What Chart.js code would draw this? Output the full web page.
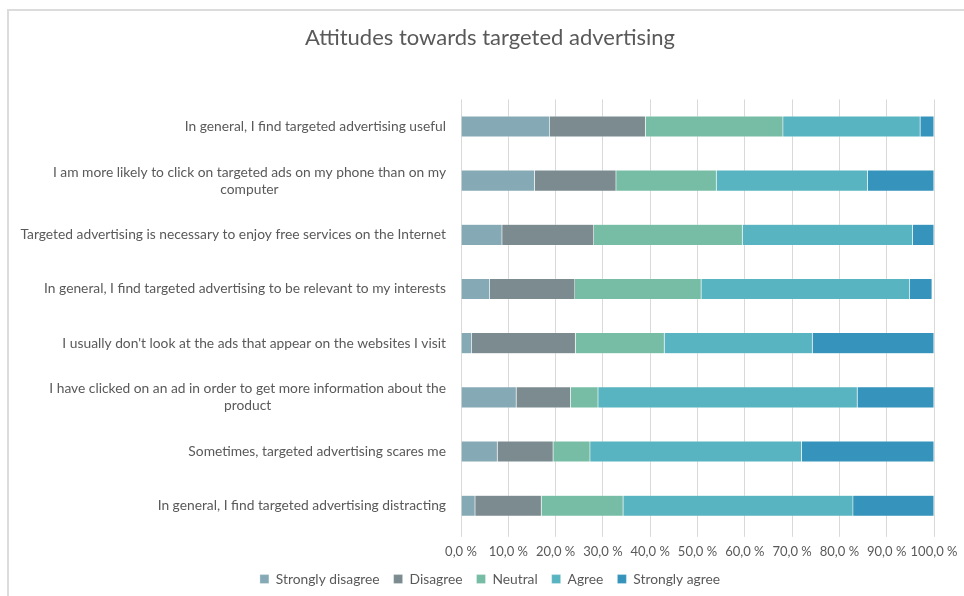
<!DOCTYPE html>
<html>
<head>
<meta charset="utf-8">
<script src="https://cdn.jsdelivr.net/npm/chart.js@4.4.1/dist/chart.umd.min.js"></script>
<style>
  html, body { margin: 0; padding: 0; background: #fff; overflow: hidden; }
  #wrap { position: relative; width: 964px; height: 596px; }
  #frame { position: absolute; left: 7px; top: 9px; width: 980px; height: 620px; border: 2px solid #dcdcdc; box-sizing: border-box; }
  canvas { position: absolute; left: 0; top: 0; }
</style>
</head>
<body>
<div id="wrap">
  <div id="frame"></div>
  <canvas id="attitudeChart" width="964" height="596"></canvas>
</div>
<script>
const statements = [
    ['In general, I find targeted advertising useful'],
    ['I am more likely to click on targeted ads on my phone than on my', 'computer'],
    ['Targeted advertising is necessary to enjoy free services on the Internet'],
    ['In general, I find targeted advertising to be relevant to my interests'],
    ["I usually don't look at the ads that appear on the websites I visit"],
    ['I have clicked on an ad in order to get more information about the', 'product'],
    ['Sometimes, targeted advertising scares me'],
    ['In general, I find targeted advertising distracting']
];

const stronglyDisagree = [18.8, 15.6, 8.7, 6.1, 2.3, 11.7, 7.7, 3.0];
const disagree         = [20.2, 17.2, 19.4, 18.0, 21.9, 11.5, 11.8, 14.0];
const neutral          = [29.1, 21.2, 31.4, 26.7, 18.8, 5.8, 7.8, 17.3];
const agree            = [29.0, 32.0, 36.0, 44.1, 31.3, 54.8, 44.7, 48.6];
const stronglyAgree    = [2.9, 14.0, 4.5, 4.7, 25.7, 16.2, 28.0, 17.1];

const tickValues = [0, 10, 20, 30, 40, 50, 60, 70, 80, 90, 100];

const textColor = '#595959';
const fontName = "Lato, 'Open Sans', sans-serif";

// draws the statement labels: block right aligned, wrapped lines centred in the block
const statementLabels = {
    id: 'statementLabels',
    afterDraw(chart) {
        const ctx = chart.ctx;
        const yScale = chart.scales.y;
        const rightEdge = chart.chartArea.left - 15;
        const lineH = 17;
        ctx.save();
        ctx.font = '13.8px ' + fontName;
        ctx.fillStyle = textColor;
        ctx.textAlign = 'center';
        ctx.textBaseline = 'middle';
        statements.forEach((lines, i) => {
            const y = yScale.getPixelForValue(i);
            const widest = Math.max(...lines.map(l => ctx.measureText(l).width));
            const cx = rightEdge - widest / 2;
            const top = y - (lines.length - 1) * lineH / 2;
            lines.forEach((l, k) => ctx.fillText(l, cx, top + k * lineH));
        });
        ctx.restore();
    }
};

function makeSet(label, data, color) {
    return {
        label: label,
        data: data,
        backgroundColor: color,
        borderColor: 'rgba(255,255,255,0.6)',
        borderWidth: 0.5,
        categoryPercentage: 0.39,
        barPercentage: 1
    };
}

Chart.defaults.font.family = fontName;
Chart.defaults.color = textColor;

const ctx = document.getElementById('attitudeChart').getContext('2d');
new Chart(ctx, {
    type: 'bar',
    data: {
        labels: statements.map(s => s.join(' ')),
        datasets: [
            makeSet('Strongly disagree', stronglyDisagree, '#86aab5'),
            makeSet('Disagree', disagree, '#7b8b8f'),
            makeSet('Neutral', neutral, '#77bda6'),
            makeSet('Agree', agree, '#59b4c1'),
            makeSet('Strongly agree', stronglyAgree, '#3593bc')
        ]
    },
    options: {
        indexAxis: 'y',
        responsive: false,
        animation: false,
        layout: { padding: { left: 16, right: 0, top: 0, bottom: 0 } },
        scales: {
            x: {
                stacked: true,
                min: 0,
                max: 100,
                afterBuildTicks: scale => { scale.ticks = tickValues.map(v => ({ value: v })); },
                afterFit: scale => { scale.paddingRight = 30; scale.height = 25.4; },
                ticks: {
                    font: { size: 13, lineHeight: 1 },
                    color: textColor,
                    padding: 9,
                    maxRotation: 0,
                    minRotation: 0,
                    autoSkip: false,
                    callback: v => v.toFixed(1).replace('.', ',') + ' %'
                },
                grid: { color: '#d9d9d9', lineWidth: 1, tickLength: 4, drawTicks: true },
                border: { display: false }
            },
            y: {
                stacked: true,
                ticks: { display: false },
                grid: { display: false },
                border: { display: false },
                afterFit: scale => { scale.width = 445; }
            }
        },
        plugins: {
            title: {
                display: true,
                text: 'Attitudes towards targeted advertising',
                color: textColor,
                font: { size: 22, weight: 'normal' },
                padding: { top: 25, bottom: 48 }
            },
            legend: {
                position: 'bottom',
                labels: {
                    boxWidth: 9,
                    boxHeight: 9,
                    padding: 14,
                    color: textColor,
                    font: { size: 13.8 }
                }
            },
            tooltip: { enabled: false }
        }
    },
    plugins: [statementLabels]
});
</script>
</body>
</html>
